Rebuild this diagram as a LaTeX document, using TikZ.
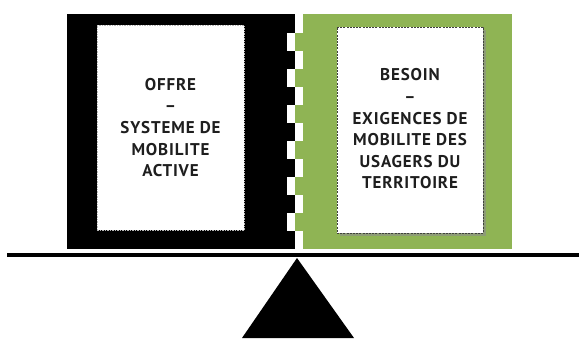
\documentclass[tikz,border=0pt]{standalone}
\usepackage{fontspec}
\setmainfont{PT Sans}
\newfontfamily\paneltextfont[LetterSpace=5]{PT Sans}
\definecolor{leafgreen}{HTML}{8FB454}
\definecolor{inktext}{HTML}{1E1E1E}
\tikzset{
  panelbox/.style={fill=white, line width=1pt},
  paneltext/.style={align=center, text=inktext, font=\paneltextfont\bfseries\fontsize{17}{21.6}\selectfont},
  notchwhite/.style={fill=white, draw=none},
  notchgreen/.style={fill=leafgreen, draw=none}
}
\begin{document}
\begin{tikzpicture}[x=1pt,y=-1pt]
\useasboundingbox (0,0) rectangle (579,338);
% panels
\fill[black] (67,14) rectangle (295,249);
\fill[leafgreen] (303,14) rectangle (512,249);
% interlocking teeth
\foreach \t in {33,69,105,141,177,213}{
  \fill[notchwhite] (287,\t) rectangle (295,\t+18);
  \fill[notchgreen] (295,\t) rectangle (303,\t+18);
}
% inner boxes
\node[panelbox, draw=gray!55, dash pattern=on 1.5pt off 1pt, minimum width=147pt, minimum height=205pt, inner sep=0pt] (offrebox) at (170.5,127.5) {};
\fill[black!45, opacity=0.6] (339.5,29.5) rectangle (485.5,235.5);
\node[panelbox, draw=black!75, dash pattern=on 2pt off 1.2pt, minimum width=146pt, minimum height=206pt, inner sep=0pt] (besoinbox) at (410,130) {};
\node[paneltext] (offretext) at (offrebox.center) {OFFRE\\–\\SYSTEME DE\\MOBILITE\\ACTIVE};
\node[paneltext] (besointext) at ([yshift=1pt]besoinbox.center) {BESOIN\\–\\EXIGENCES DE\\MOBILITE DES\\USAGERS DU\\TERRITOIRE};
% balance beam and fulcrum
\coordinate (beamL) at (7,255);
\coordinate (beamR) at (579,255);
\draw[line width=3.5pt] (beamL) -- (beamR);
\coordinate (apex) at (297,258);
\coordinate (baseL) at (242,338);
\coordinate (baseR) at (354,338);
\fill[black] (apex) -- (baseR) -- (baseL) -- cycle;
\end{tikzpicture}
\end{document}
